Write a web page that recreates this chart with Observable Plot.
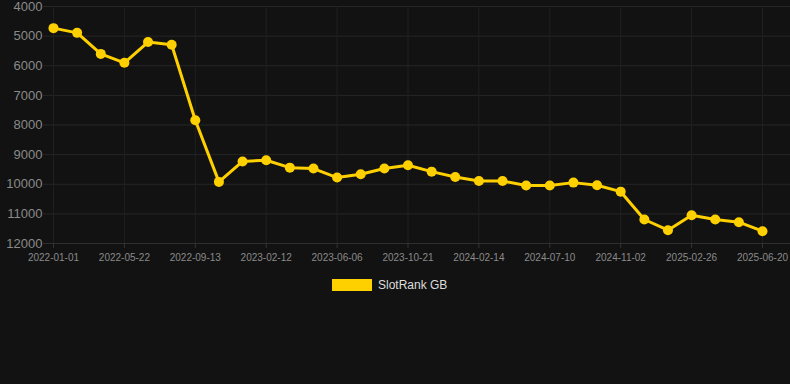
<!DOCTYPE html>
<html>
<head>
<meta charset="utf-8">
<script src="https://cdn.jsdelivr.net/npm/d3@7"></script>
<script src="https://cdn.jsdelivr.net/npm/@observablehq/plot@0.6"></script>
<style>
  html, body { margin: 0; padding: 0; background: #121212; width: 790px; height: 384px; overflow: hidden; }
  #wrap { position: relative; width: 790px; height: 384px; font-family: "Liberation Sans", Arial, sans-serif; }
  #legend { position: absolute; left: 332px; top: 278px; display: flex; align-items: center; gap: 6px; font-size: 12px; color: #dddddd; }
  #legend .sw { width: 40px; height: 12px; background: #FFD000; }
</style>
</head>
<body>
<div id="wrap">
  <div id="chart"></div>
  <div id="legend"><span class="sw"></span><span id="legtext"></span></div>
</div>
<script>
const seriesName = "SlotRank GB";
const dates = [
  "2022-01-01","2022-02-17","2022-04-05","2022-05-22","2022-06-29","2022-08-06",
  "2022-09-13","2022-11-02","2022-12-23","2023-02-12","2023-03-20","2023-04-29",
  "2023-06-06","2023-07-21","2023-09-05","2023-10-21","2023-11-28","2024-01-06",
  "2024-02-14","2024-04-03","2024-05-22","2024-07-10","2024-08-17","2024-09-25",
  "2024-11-02","2024-12-11","2025-01-18","2025-02-26","2025-04-04","2025-05-12",
  "2025-06-20"
];
const ranks = [
  4730, 4890, 5600, 5900, 5200, 5290,
  7840, 9920, 9230, 9190, 9440, 9470,
  9775, 9665, 9470, 9360, 9575, 9755,
  9890, 9890, 10045, 10040, 9945, 10035,
  10250, 11190, 11550, 11045, 11190, 11280,
  11585
];
const xTickLabels = ["2022-01-01","2022-05-22","2022-09-13","2023-02-12","2023-06-06","2023-10-21","2024-02-14","2024-07-10","2024-11-02","2025-02-26","2025-06-20"];
const yTicks = [4000, 5000, 6000, 7000, 8000, 9000, 10000, 11000, 12000];

const data = dates.map((d, i) => ({date: d, rank: ranks[i]}));
const lineColor = "#FFD000";

const chart = Plot.plot({
  width: 790,
  height: 270,
  marginTop: 6,
  marginBottom: 27,
  marginLeft: 43,
  marginRight: 0,
  style: {background: "transparent", color: "#888", fontFamily: "'Liberation Sans', Arial, sans-serif"},
  x: {type: "point", domain: dates, range: [53, 762], padding: 0, round: false},
  y: {domain: [4000, 12000], reverse: true},
  marks: [
    Plot.gridY(yTicks, {stroke: "#262626", strokeOpacity: 1}),
    Plot.gridX(xTickLabels, {stroke: "#202020", strokeOpacity: 1}),
    Plot.ruleY([12000], {stroke: "#2e2e2e"}),
    Plot.axisY(yTicks, {tickSize: 0, tickPadding: 1, fontSize: 13, fill: "#8a8a8a", label: null, tickFormat: d => String(d)}),
    Plot.axisX(xTickLabels, {tickSize: 5, tickPadding: 5, stroke: "#333", fontSize: 10, fill: "#8a8a8a", label: null}),
    Plot.line(data, {x: "date", y: "rank", stroke: lineColor, strokeWidth: 3}),
    Plot.dot(data, {x: "date", y: "rank", r: 5, fill: lineColor, stroke: null})
  ]
});
document.getElementById("chart").appendChild(chart);
document.getElementById("legtext").textContent = seriesName;
</script>
</body>
</html>
